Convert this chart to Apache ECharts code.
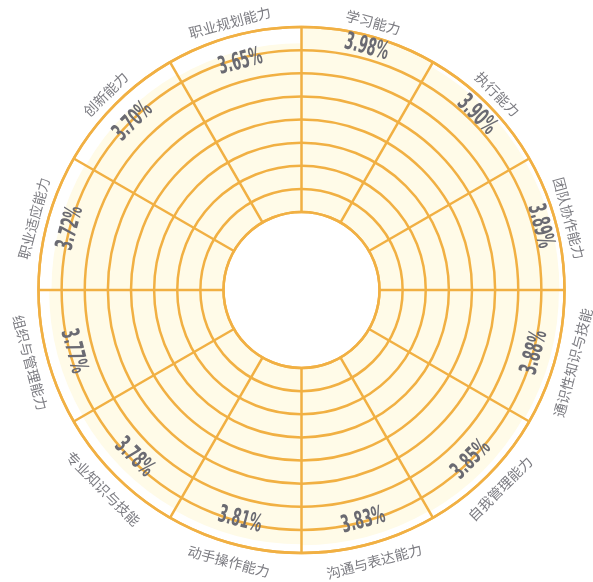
<!DOCTYPE html>
<html><head><meta charset="utf-8">
<script src="https://cdn.jsdelivr.net/npm/echarts@6/dist/echarts.min.js"></script>
<style>html,body{margin:0;padding:0;background:#fff}#main{width:593px;height:582px}</style>
</head><body><div id="main"></div>
<script>
const categories = ['学习能力','执行能力','团队协作能力','通识性知识与技能','自我管理能力','沟通与表达能力','动手操作能力','专业知识与技能','组织与管理能力','职业适应能力','创新能力','职业规划能力'];
const values = [3.98, 3.90, 3.89, 3.88, 3.85, 3.83, 3.81, 3.78, 3.77, 3.72, 3.70, 3.65];
const radiusMin = 0;
const radiusMax = 4;
const radiusInterval = 0.5;

const LINE = '#f1b043';
const FILL = '#fffbe8';

function tangentialText(params, api, text, pxOffsetNormal, pxOffsetFlip, style, sx, sy) {
  const cs = params.coordSys;
  const p = api.coord([api.value(0), api.value(1)]);
  const dx = p[0] - cs.cx, dy = p[1] - cs.cy;
  const r = Math.sqrt(dx * dx + dy * dy);
  const phi = Math.atan2(dy, dx);
  const flip = dy > 0;
  const rr = r + (flip ? pxOffsetFlip : pxOffsetNormal);
  let rot = -(phi + Math.PI / 2);
  if (flip) rot += Math.PI;
  return {
    type: 'text',
    x: cs.cx + rr * Math.cos(phi),
    y: cs.cy + rr * Math.sin(phi),
    rotation: rot,
    scaleX: sx, scaleY: sy,
    style: Object.assign({ text: text, align: 'center', verticalAlign: 'middle' }, style)
  };
}

const chart = echarts.init(document.getElementById('main'));
chart.setOption({
  animation: false,
  backgroundColor: '#fff',
  polar: { center: [301.5, 290], radius: [78, 263] },
  angleAxis: {
    type: 'category', data: categories, startAngle: 90, clockwise: true, boundaryGap: true, z: 3,
    axisLine: { show: true, lineStyle: { color: LINE, width: 2.5 } },
    axisTick: { show: false }, axisLabel: { show: false },
    splitLine: { show: true, lineStyle: { color: LINE, width: 2.5 } }
  },
  radiusAxis: {
    type: 'value', min: radiusMin, max: radiusMax, interval: radiusInterval, z: 3,
    axisLine: { show: false }, axisTick: { show: false }, axisLabel: { show: false },
    splitLine: { show: true, lineStyle: { color: LINE, width: 2.5 } }
  },
  series: [
    {
      type: 'bar', coordinateSystem: 'polar', data: values, barCategoryGap: '0%',
      itemStyle: { color: FILL }, z: 1
    },
    {
      type: 'custom', coordinateSystem: 'polar', z: 10,
      encode: { radius: 0, angle: 1 },
      data: values.map((v, i) => [v, i]),
      renderItem: function (params, api) {
        const v = api.value(0);
        return tangentialText(params, api, v.toFixed(2) + '%', -11, -16,
          { fontFamily: 'DejaVu Sans Condensed', fontWeight: 'bold', fontSize: 17, fill: '#6a6a72' }, 0.84, 1.42);
      }
    },
    {
      type: 'custom', coordinateSystem: 'polar', z: 10,
      encode: { radius: 0, angle: 1 },
      data: categories.map((c, i) => [radiusMax, i]),
      renderItem: function (params, api) {
        return tangentialText(params, api, categories[api.value(1)], 14, 18,
          { fontFamily: 'Noto Sans CJK SC', fontSize: 14, fill: '#7c7c82' }, 1, 1);
      }
    }
  ]
});
</script>
</body></html>
